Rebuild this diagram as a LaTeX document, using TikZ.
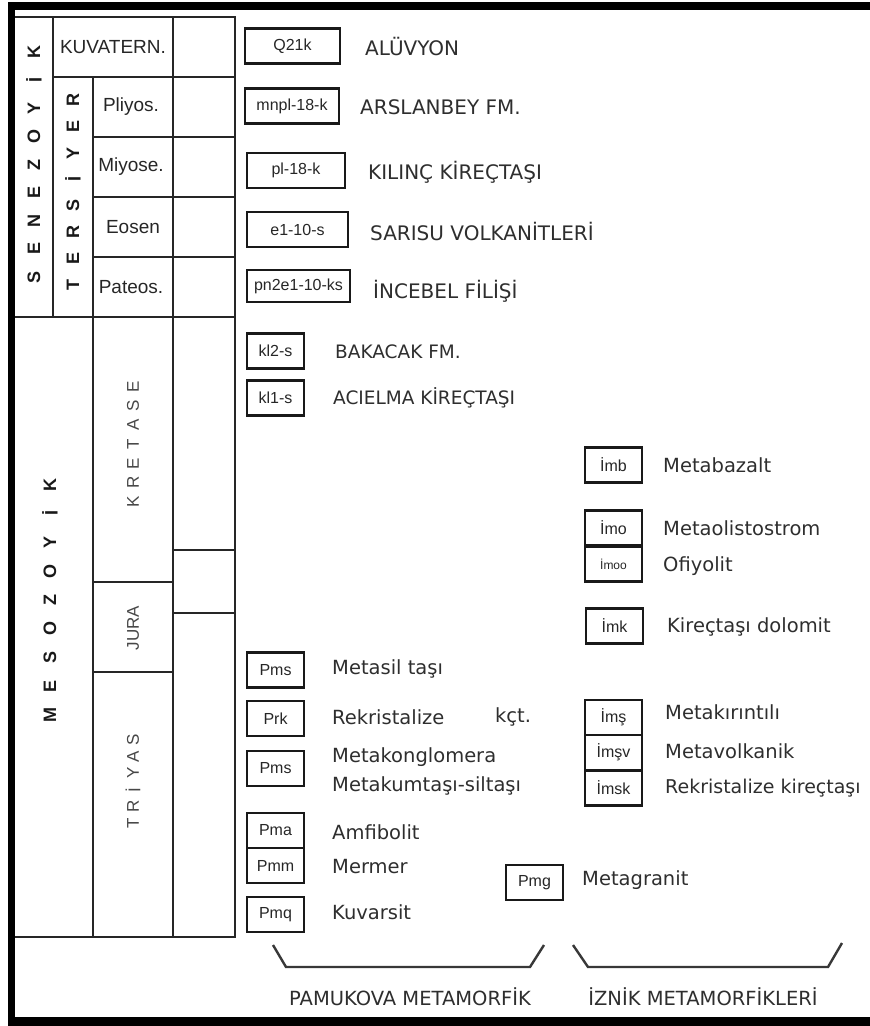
\documentclass[tikz,border=0pt]{standalone}
\usepackage{fontspec}
\setmainfont{DejaVu Sans}
\newfontfamily\arialf{Liberation Sans}
\begin{document}
\begin{tikzpicture}[x=1pt, y=-1pt,
      grid/.style={line width=2pt, black!85},
      unit/.style={draw=black!90, line width=2.8pt, minimum width=57pt, minimum height=35pt, inner sep=0pt, text=black!85, font=\arialf\fontsize{16}{16}\selectfont},
      lbl/.style={anchor=west, inner sep=0pt, text=black!82, font=\fontsize{19.5}{23}\selectfont},
      caplbl/.style={lbl, font=\fontsize{20}{24}\selectfont},
      era/.style={rotate=90, inner sep=0pt, text=black!90, font=\arialf\bfseries\fontsize{18}{18}\selectfont},
      per/.style={rotate=90, inner sep=0pt, text=black!72, font=\arialf\fontsize{17}{17}\selectfont},
      cell/.style={inner sep=0pt, text=black!85, font=\arialf\fontsize{19}{19}\selectfont},
      brc/.style={line width=2.4pt, black!78}]
    \useasboundingbox (0,0) rectangle (870,1026);
    \fill (8,2) rectangle (870,10);
    \fill (8,2) rectangle (15,1026);
    \fill (8,1017) rectangle (870,1026);
    \draw[grid] (15,17) -- (235,17) -- (235,937) -- (15,937);
    \draw[grid] (53,17) -- (53,317);
    \draw[grid] (93,77) -- (93,937);
    \draw[grid] (173,17) -- (173,937);
    \draw[grid] (53,77) -- (235,77);
    \foreach \y in {137,197,257}
      \draw[grid] (93,\y) -- (235,\y);
    \draw[grid] (15,317) -- (235,317);
    \draw[grid] (93,582) -- (173,582);
    \draw[grid] (93,672) -- (173,672);
    \draw[grid] (173,550) -- (235,550);
    \draw[grid] (173,613) -- (235,613);
    \foreach \l [count=\i from 0] in {S,E,N,E,Z,O,Y,İ,K}
      \node[era] (sen\i) at (34,{277-28.1*\i}) {\l};
    \foreach \l [count=\i from 0] in {T,E,R,S,İ,Y,E,R}
      \node[era] (ter\i) at (73,{285-26.4*\i}) {\l};
    \foreach \l [count=\i from 0] in {M,E,S,O,Z,O,Y,İ,K}
      \node[era] (mes\i) at (50,{715-28.8*\i}) {\l};
    \foreach \l [count=\i from 0] in {K,R,E,T,A,S,E}
      \node[per] (kre\i) at (133,{502-19.2*\i}) {\l};
    \foreach \l [count=\i from 0] in {T,R,İ,Y,A,S}
      \node[per] (tri\i) at (133,{823-16.6*\i}) {\l};
    \node[per] (jura) at (133,628) {JURA};
    \node[cell] (kuv) at (113,47)  {KUVATERN.};
    \node[cell] (pli) at (131,107) {Pliyos.};
    \node[cell] (miy) at (131,167) {Miyose.};
    \node[cell] (eos) at (133,227) {Eosen};
    \node[cell] (pat) at (131,287) {Pateos.};
    \node[unit, minimum width=95pt] (q21k) at (292.5,46)  {Q21k};
    \node[unit, minimum width=94pt] (mnpl) at (292,106)   {mnpl-18-k};
    \node[unit, minimum width=98pt] (pl18) at (296,170.5) {pl-18-k};
    \node[unit, minimum width=101pt] (e110) at (297.5,229.5) {e1-10-s};
    \node[unit, minimum width=103pt, minimum height=32pt] (pn2e) at (298.5,286) {pn2e1-10-ks};
    \node[caplbl] (aluv) at (365,47)  {ALÜVYON};
    \node[caplbl] (arsl) at (360,107) {ARSLANBEY FM.};
    \node[caplbl] (kili) at (368,172) {KILINÇ KİREÇTAŞI};
    \node[caplbl] (sari) at (370,231) {SARISU VOLKANİTLERİ};
    \node[caplbl] (ince) at (373,291) {İNCEBEL FİLİŞİ};
    \node[unit] (kl2s) at (275.5,351) {kl2-s};
    \node[unit] (kl1s) at (275.5,398) {kl1-s};
    \node[lbl, font=\fontsize{18.5}{22}\selectfont] (baka) at (335,352) {BAKACAK FM.};
    \node[lbl, font=\fontsize{18.5}{22}\selectfont] (acie) at (333,398) {ACIELMA KİREÇTAŞI};
    \node[unit] (pms1) at (275.5,670)   {Pms};
    \node[unit] (prk)  at (275.5,718.5) {Prk};
    \node[unit] (pms2) at (275.5,768.5) {Pms};
    \node[unit] (pma)  at (275.5,830.5) {Pma};
    \node[unit] (pmm)  at (275.5,865.5) {Pmm};
    \node[unit] (pmq)  at (275.5,914.5) {Pmq};
    \node[unit] (pmg)  at (534.5,882.5) {Pmg};
    \node[lbl] (msil) at (332,669) {Metasil taşı};
    \node[lbl] (rekr) at (332,717) {Rekristalize};
    \node[lbl] (kct)  at (495,717) {kçt.};
    \node[lbl] (mkon) at (332,757) {Metakonglomera};
    \node[lbl] (mkum) at (332,786) {Metakumtaşı-siltaşı};
    \node[lbl] (amfi) at (332,832) {Amfibolit};
    \node[lbl] (merm) at (332,867) {Mermer};
    \node[lbl] (kuva) at (332,912) {Kuvarsit};
    \node[lbl] (mgra) at (582,880) {Metagranit};
    \node[unit] (imb)  at (613.5,465) {İmb};
    \node[unit] (imo)  at (613.5,528) {İmo};
    \node[unit, font=\arialf\fontsize{12}{12}\selectfont] (imoo) at (613.5,564) {İmoo};
    \node[unit] (imk)  at (614.5,626) {İmk};
    \node[unit] (ims)  at (613.5,717.5) {İmş};
    \node[unit] (imsv) at (613.5,752.5) {İmşv};
    \node[unit] (imsk) at (613.5,788) {İmsk};
    \node[lbl] (mbaz) at (663,465) {Metabazalt};
    \node[lbl] (moli) at (663,528) {Metaolistostrom};
    \node[lbl] (ofiy) at (663,566) {Ofiyolit};
    \node[lbl] (kdol) at (667,627) {Kireçtaşı dolomit};
    \node[lbl] (mkir) at (665,712) {Metakırıntılı};
    \node[lbl] (mvol) at (665,751) {Metavolkanik};
    \node[lbl, font=\fontsize{19}{23}\selectfont] (rkir) at (665,788) {Rekristalize kireçtaşı};
    \draw[brc] (273,945) -- (286,967) -- (530,967) -- (544,945);
    \draw[brc] (573,945) -- (588,967) -- (828,967) -- (842,943);
    \node[lbl, anchor=center] (pamu) at (410,997) {PAMUKOVA METAMORFİK};
    \node[lbl, anchor=center] (izni) at (703,997) {İZNİK METAMORFİKLERİ};
  \end{tikzpicture}
\end{document}
